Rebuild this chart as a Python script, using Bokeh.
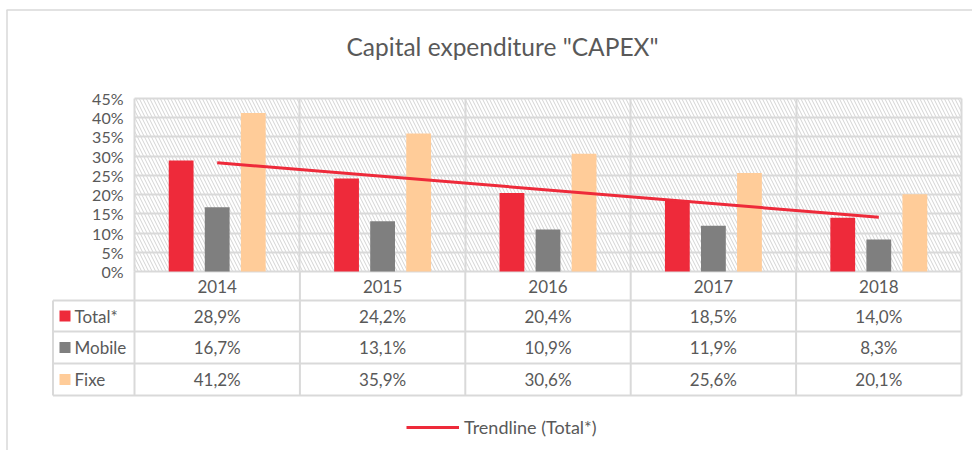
import numpy as np
from bokeh.plotting import figure
from bokeh.models import (Range1d, FixedTicker, Grid, LinearAxis, Legend, LegendItem)
from bokeh.embed import file_html
from bokeh.resources import INLINE
from bokeh.core.properties import value

# ---------------- data ----------------
years = ["2014", "2015", "2016", "2017", "2018"]
series_names = ["Total*", "Mobile", "Fixe"]
total = [28.9, 24.2, 20.4, 18.5, 14.0]
mobile = [16.7, 13.1, 10.9, 11.9, 8.3]
fixe = [41.2, 35.9, 30.6, 25.6, 20.1]
y_ticks = [0, 5, 10, 15, 20, 25, 30, 35, 40, 45]
title_text = 'Capital expenditure "CAPEX"'
legend_text = "Trendline (Total*)"

# ---------------- style / layout (page pixels) ----------------
FONT = "Lato"
TXT = "#595959"
GRID = "#d9d9d9"
RED, GRAY, PEACH = "#ee2a3a", "#7f7f7f", "#ffcc99"
colors = [RED, GRAY, PEACH]

OX, OY = 1, 1              # observed canvas origin on the page
W, H = 972, 450
PLOT_L, PLOT_R = 135, 962  # chart columns, page px
PLOT_T, PLOT_B = 99, 272   # 45% .. 0%, page px
ROW_EDGES = [272, 301, 332, 364, 396]  # table row borders, page px
TABLE_L = 53.5

XPX = (PLOT_R - PLOT_L) / len(years)
YPX = (PLOT_B - PLOT_T) / max(y_ticks)
def dx(px):  # page px -> data x
    return (px - PLOT_L) / XPX
def dy(py):  # page py -> data y
    return (PLOT_B - py) / YPX

x_centers = np.arange(len(years)) + 0.5
series = [total, mobile, fixe]
offsets = [-0.218, 0.0, 0.218]

p = figure(width=W, height=H,
           x_range=Range1d(dx(OX), dx(OX + W)), y_range=Range1d(dy(OY + H), dy(OY)),
           x_axis_location=None, y_axis_location=None,
           output_backend="svg", toolbar_location=None,
           min_border=0)
p.outline_line_color = None
p.background_fill_color = "white"
p.border_fill_color = "white"
# drop default grids
p.center = [r for r in p.center if not isinstance(r, Grid)]

# chart box border (left and top)
p.segment(x0=[dx(7.5), dx(7)], y0=[dy(10.5), dy(10.5)],
          x1=[dx(7.5), dx(OX + W)], y1=[dy(OY + H), dy(10.5)],
          line_color=GRID, line_width=1.5)

# hatched plot area
p.quad(left=0, right=len(years), bottom=0, top=max(y_ticks),
       fill_color="white", line_color=None,
       hatch_pattern="\\", hatch_color="#d3d3d3", hatch_scale=7,
       hatch_weight=1, level="image")

# y axis floating at x = 0
yax = LinearAxis(fixed_location=0, ticker=FixedTicker(ticks=y_ticks),
                 major_label_overrides={t: f"{t}%" for t in y_ticks},
                 axis_line_color=None, major_tick_line_color=None,
                 minor_tick_line_color=None, major_label_standoff=5,
                 major_label_text_font=FONT, major_label_text_font_size="16px",
                 major_label_text_color=TXT)
p.add_layout(yax, "left")

p.add_layout(Grid(dimension=1, ticker=FixedTicker(ticks=y_ticks),
                  cross_bounds=(0, len(years)),
                  grid_line_color=GRID, grid_line_width=2))
p.add_layout(Grid(dimension=0, ticker=FixedTicker(ticks=list(range(len(years) + 1))),
                  cross_bounds=(0, max(y_ticks)),
                  grid_line_color=GRID, grid_line_width=2))

for vals, c, off in zip(series, colors, offsets):
    p.vbar(x=x_centers + off, top=vals, bottom=0, width=0.15,
           fill_color=c, line_color=None)

coef = np.polyfit(x_centers, total, 1)
tx = x_centers[[0, -1]]
trend = p.line(tx, np.polyval(coef, tx), line_color=RED, line_width=3)

# title
p.text(x=[dx(503)], y=[dy(47)], text=[title_text], text_align="center",
       text_baseline="middle", text_font=value(FONT), text_font_size="24.5px",
       text_color=TXT)

# ---------------- table ----------------
rows = [dy(v) for v in ROW_EDGES]
x0, y0, x1, y1 = [], [], [], []
for k in range(len(years) + 1):
    x0.append(k); x1.append(k); y0.append(rows[0]); y1.append(rows[-1])
x0.append(dx(TABLE_L)); x1.append(dx(TABLE_L)); y0.append(rows[1]); y1.append(rows[-1])
for r in rows[1:]:
    x0.append(dx(TABLE_L)); x1.append(len(years)); y0.append(r); y1.append(r)
p.segment(x0, y0, x1, y1, line_color=GRID, line_width=2)

row_mid = [(a + b) / 2 for a, b in zip(rows[:-1], rows[1:])]
tfont = dict(text_font=value(FONT), text_font_size="17px", text_color=TXT,
             text_baseline="middle")
p.text(x=x_centers, y=[row_mid[0]] * len(years), text=years, text_align="center", **tfont)
for r, (name, vals, c) in enumerate(zip(series_names, series, colors), start=1):
    labels = [f"{v:.1f}%".replace(".", ",") for v in vals]
    p.text(x=x_centers, y=[row_mid[r]] * len(vals), text=labels, text_align="center", **tfont)
    p.scatter(x=[dx(65.5)], y=[row_mid[r]], marker="square", size=11,
              fill_color=c, line_color=None)
    p.text(x=[dx(75)], y=[row_mid[r]], text=[name], text_align="left", **tfont)

# ---------------- legend ----------------
legend = Legend(items=[LegendItem(label=legend_text, renderers=[trend])],
                location=(407 - OX, (OY + H) - 439), orientation="horizontal",
                glyph_width=53, glyph_height=20, label_standoff=5,
                padding=0, margin=0, border_line_color=None,
                background_fill_alpha=0, label_text_font=FONT,
                label_text_font_size="18px", label_text_color=TXT)
p.add_layout(legend)

open("out.html", "w").write(file_html(p, INLINE))
